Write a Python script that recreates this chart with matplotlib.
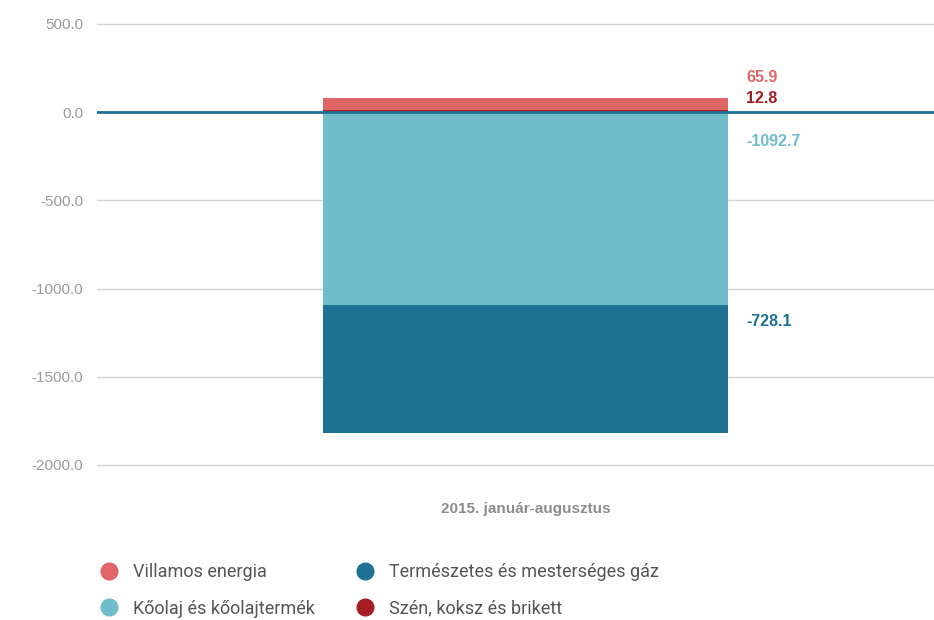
import matplotlib.pyplot as plt
from matplotlib.lines import Line2D

# Adatok (2015. január-augusztus, nettó import egyenleg)
category = "2015. január-augusztus"
series = ["Villamos energia", "Kőolaj és kőolajtermék",
          "Természetes és mesterséges gáz", "Szén, koksz és brikett"]
values = [65.9, -1092.7, -728.1, 12.8]
colors = ["#df6567", "#6fbdca", "#1f7193", "#a51d25"]
yticks = [500, 0, -500, -1000, -1500, -2000]

# címkék eltolása (pont) a szegmens tetejéhez képest
label_offsets = {"Villamos energia": 15, "Szén, koksz és brikett": 8,
                 "Kőolaj és kőolajtermék": -21, "Természetes és mesterséges gáz": -12}

fig = plt.figure(figsize=(9.34, 6.2), dpi=100)
ax = fig.add_axes([0.1039, 0.25, 0.8961, 0.7113])

# pozitív és negatív rétegek külön halmozva
stack_order = ["Szén, koksz és brikett", "Villamos energia",
               "Kőolaj és kőolajtermék", "Természetes és mesterséges gáz"]
pos_base, neg_base = 0.0, 0.0
bar_w = 0.484
for name in stack_order:
    i = series.index(name)
    v = values[i]
    if v >= 0:
        bottom = pos_base
        pos_base += v
        top = pos_base
    else:
        bottom = neg_base
        neg_base += v
        top = bottom
    ax.bar(0, v, bottom=bottom, width=bar_w, color=colors[i], zorder=3)
    ax.annotate(f"{v:.1f}", xy=(bar_w / 2, top), xytext=(13, label_offsets[name]),
                textcoords="offset points", ha="left", va="center",
                fontsize=11.5, fontweight="bold", color=colors[i],
                family="Liberation Sans")

ax.set_xlim(-0.512, 0.488)
ax.set_ylim(-2000, 500)
ax.set_yticks(yticks)
ax.set_yticklabels([f"{t:.1f}" for t in yticks], family="Liberation Sans",
                   fontsize=11, color="#9a9a9a")
ax.tick_params(axis="y", length=0, pad=10)
ax.set_xticks([0])
ax.set_xticklabels([category], family="Liberation Sans",
                   fontsize=11, fontweight="bold", color="#8c8c8c")
ax.tick_params(axis="x", length=0, pad=27)
ax.grid(axis="y", color="#d5d5d5", linewidth=1, zorder=0)
for gl in ax.get_ygridlines():
    gl.set_clip_on(False)
ax.axhline(0, color="#1f7193", linewidth=2, zorder=4)
for s in ax.spines.values():
    s.set_visible(False)

handles = [Line2D([], [], marker="o", linestyle="none", markersize=12,
                  markerfacecolor=c, markeredgecolor=c) for c in colors]
fig.legend(handles, series, ncol=2, loc="upper left", bbox_to_anchor=(0.080, 0.118),
           frameon=False, handletextpad=0.35, columnspacing=1.75, labelspacing=1.03,
           prop={"family": "Roboto", "size": 13}, labelcolor="#555555")

fig.savefig("out.png", dpi=100)
